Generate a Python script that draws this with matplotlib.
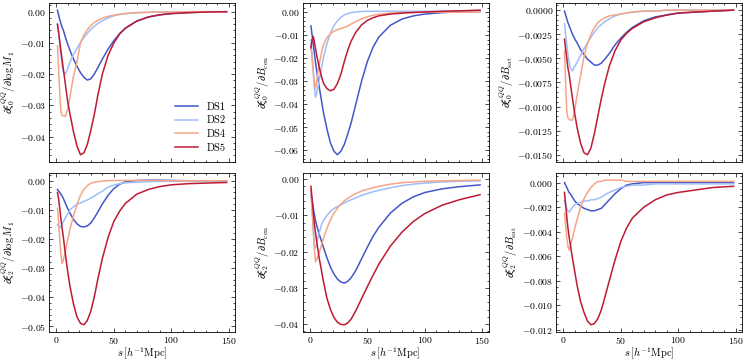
import numpy as np
import matplotlib
matplotlib.use("Agg")
import matplotlib.pyplot as plt
from matplotlib.ticker import AutoMinorLocator

plt.rcParams.update({
    "font.family": "serif",
    "font.serif": ["cmr10"],
    "mathtext.fontset": "cm",
    "axes.formatter.use_mathtext": True,
    "axes.unicode_minus": True,
    "font.size": 7,
    "axes.linewidth": 0.6,
    "xtick.direction": "in",
    "ytick.direction": "in",
    "xtick.top": True,
    "ytick.right": True,
    "xtick.major.size": 3,
    "ytick.major.size": 3,
    "xtick.minor.size": 1.5,
    "ytick.minor.size": 1.5,
    "xtick.major.width": 0.5,
    "ytick.major.width": 0.5,
    "xtick.minor.width": 0.5,
    "ytick.minor.width": 0.5,
    "xtick.minor.visible": True,
    "ytick.minor.visible": True,
    "ytick.major.pad": 2.0,
    "xtick.major.pad": 2.0,
})

# separation grid [h^-1 Mpc]
s = [1, 2, 3, 4, 5, 6, 8, 10, 12, 15, 18, 21, 24, 27, 30, 33, 36, 40, 45, 50,
     55, 60, 70, 80, 90, 100, 115, 130, 148]

labels = ["DS1", "DS2", "DS4", "DS5"]

# xi_0 derivative wrt log M1
xi0_logM1 = {
    "DS1": [0.0005, -0.0010, -0.0025, -0.0038, -0.0050, -0.0058, -0.0083, -0.0105, -0.0125, -0.0152,
            -0.0175, -0.0195, -0.0210, -0.0219, -0.0215, -0.0200, -0.0180, -0.0152, -0.0120, -0.0093,
            -0.0070, -0.0053, -0.0030, -0.0017, -0.0010, -0.0006, -0.0003, -0.0001, 0.0000],
    "DS2": [-0.0040, -0.0070, -0.0105, -0.0140, -0.0170, -0.0192, -0.0200, -0.0180, -0.0160, -0.0137,
            -0.0117, -0.0099, -0.0083, -0.0069, -0.0057, -0.0047, -0.0038, -0.0029, -0.0020, -0.0013,
            -0.0009, -0.0006, -0.0003, -0.0002, -0.0001, -0.0001, 0.0000, 0.0000, 0.0000],
    "DS4": [-0.0110, -0.0180, -0.0260, -0.0320, -0.0332, -0.0333, -0.0335, -0.0310, -0.0270, -0.0205,
            -0.0160, -0.0100, -0.0075, -0.0058, -0.0045, -0.0035, -0.0028, -0.0021, -0.0015, -0.0011,
            -0.0008, -0.0006, -0.0003, -0.0002, -0.0001, -0.0001, 0.0000, 0.0000, 0.0000],
    "DS5": [-0.0040, -0.0065, -0.0095, -0.0125, -0.0152, -0.0180, -0.0235, -0.0290, -0.0330, -0.0385,
            -0.0430, -0.0458, -0.0452, -0.0425, -0.0380, -0.0330, -0.0270, -0.0200, -0.0140, -0.0100,
            -0.0072, -0.0053, -0.0030, -0.0017, -0.0010, -0.0006, -0.0003, -0.0001, 0.0000],
}

# xi_0 derivative wrt B_cen
xi0_Bcen = {
    "DS1": [-0.0060, -0.0100, -0.0140, -0.0180, -0.0220, -0.0255, -0.0320, -0.0380, -0.0440, -0.0510,
            -0.0570, -0.0605, -0.0620, -0.0605, -0.0575, -0.0530, -0.0480, -0.0400, -0.0300, -0.0215,
            -0.0152, -0.0108, -0.0057, -0.0030, -0.0016, -0.0008, -0.0002, 0.0002, 0.0006],
    "DS2": [-0.0120, -0.0190, -0.0260, -0.0330, -0.0370, -0.0350, -0.0300, -0.0245, -0.0195, -0.0135,
            -0.0090, -0.0058, -0.0037, -0.0022, -0.0012, -0.0006, -0.0002, 0.0001, 0.0003, 0.0004,
            0.0004, 0.0004, 0.0004, 0.0004, 0.0004, 0.0004, 0.0004, 0.0005, 0.0005],
    "DS4": [-0.0150, -0.0200, -0.0260, -0.0310, -0.0330, -0.0300, -0.0230, -0.0180, -0.0140, -0.0110,
            -0.0093, -0.0083, -0.0076, -0.0071, -0.0066, -0.0060, -0.0051, -0.0041, -0.0029, -0.0020,
            -0.0013, -0.0009, -0.0004, -0.0002, -0.0001, 0.0000, 0.0000, 0.0000, 0.0000],
    "DS5": [-0.0155, -0.0120, -0.0105, -0.0130, -0.0160, -0.0188, -0.0235, -0.0277, -0.0310, -0.0333,
            -0.0342, -0.0335, -0.0310, -0.0270, -0.0215, -0.0165, -0.0125, -0.0087, -0.0055, -0.0036,
            -0.0024, -0.0016, -0.0008, -0.0004, -0.0001, 0.0001, 0.0004, 0.0006, 0.0009],
}

# xi_0 derivative wrt B_sat
xi0_Bsat = {
    "DS1": [-0.0001, -0.0005, -0.0009, -0.0013, -0.0016, -0.0019, -0.0025, -0.0030, -0.0034, -0.0041,
            -0.0046, -0.0051, -0.0054, -0.0057, -0.0057, -0.0055, -0.0051, -0.0045, -0.0036, -0.0029,
            -0.0023, -0.0018, -0.0011, -0.0007, -0.0005, -0.0003, -0.0002, -0.0001, 0.0000],
    "DS2": [-0.0014, -0.0025, -0.0036, -0.0046, -0.0054, -0.0060, -0.0063, -0.0058, -0.0054, -0.0047,
            -0.0040, -0.0034, -0.0028, -0.0023, -0.0018, -0.0015, -0.0012, -0.0009, -0.0006, -0.0004,
            -0.0003, -0.0002, -0.0001, -0.0001, 0.0000, 0.0000, 0.0000, 0.0000, 0.0000],
    "DS4": [-0.0042, -0.0075, -0.0105, -0.0112, -0.0113, -0.0114, -0.0114, -0.0103, -0.0088, -0.0068,
            -0.0048, -0.0035, -0.0025, -0.0018, -0.0013, -0.0010, -0.0008, -0.0006, -0.0005, -0.0004,
            -0.0003, -0.0002, -0.0001, -0.0001, 0.0000, 0.0000, 0.0000, 0.0000, 0.0000],
    "DS5": [-0.0030, -0.0040, -0.0050, -0.0060, -0.0066, -0.0075, -0.0092, -0.0108, -0.0122, -0.0138,
            -0.0148, -0.0150, -0.0143, -0.0128, -0.0110, -0.0092, -0.0076, -0.0058, -0.0042, -0.0031,
            -0.0024, -0.0019, -0.0012, -0.0008, -0.0005, -0.0003, -0.0002, -0.0001, 0.0000],
}

# xi_2 derivative wrt log M1
xi2_logM1 = {
    "DS1": [-0.0030, -0.0035, -0.0040, -0.0046, -0.0052, -0.0060, -0.0078, -0.0096, -0.0112, -0.0133,
            -0.0148, -0.0157, -0.0159, -0.0155, -0.0145, -0.0128, -0.0108, -0.0080, -0.0050, -0.0027,
            -0.0012, -0.0004, 0.0001, 0.0002, 0.0002, 0.0001, 0.0000, -0.0001, -0.0001],
    "DS2": [-0.0150, -0.0158, -0.0162, -0.0158, -0.0150, -0.0142, -0.0127, -0.0112, -0.0100, -0.0089,
            -0.0081, -0.0076, -0.0071, -0.0066, -0.0060, -0.0053, -0.0045, -0.0036, -0.0022, -0.0015,
            -0.0010, -0.0007, -0.0005, -0.0003, -0.0002, -0.0002, -0.0002, -0.0002, -0.0002],
    "DS4": [-0.0095, -0.0140, -0.0200, -0.0255, -0.0285, -0.0275, -0.0240, -0.0200, -0.0165, -0.0120,
            -0.0082, -0.0050, -0.0030, -0.0017, -0.0009, -0.0005, -0.0003, -0.0001, 0.0000, 0.0001,
            0.0001, 0.0001, 0.0001, 0.0001, 0.0001, 0.0000, 0.0000, 0.0000, 0.0000],
    "DS5": [-0.0040, -0.0060, -0.0095, -0.0130, -0.0162, -0.0190, -0.0255, -0.0315, -0.0365, -0.0425,
            -0.0468, -0.0490, -0.0495, -0.0480, -0.0448, -0.0400, -0.0340, -0.0268, -0.0195, -0.0140,
            -0.0105, -0.0078, -0.0046, -0.0030, -0.0020, -0.0014, -0.0010, -0.0008, -0.0006],
}

# xi_2 derivative wrt B_cen
xi2_Bcen = {
    "DS1": [-0.0040, -0.0060, -0.0080, -0.0098, -0.0115, -0.0128, -0.0150, -0.0170, -0.0190, -0.0218,
            -0.0243, -0.0262, -0.0276, -0.0284, -0.0287, -0.0282, -0.0272, -0.0252, -0.0220, -0.0188,
            -0.0158, -0.0133, -0.0094, -0.0067, -0.0049, -0.0037, -0.0027, -0.0021, -0.0016],
    "DS2": [-0.0040, -0.0090, -0.0140, -0.0185, -0.0190, -0.0178, -0.0150, -0.0128, -0.0113, -0.0100,
            -0.0089, -0.0081, -0.0076, -0.0071, -0.0066, -0.0061, -0.0057, -0.0052, -0.0045, -0.0040,
            -0.0035, -0.0031, -0.0024, -0.0018, -0.0014, -0.0011, -0.0008, -0.0006, -0.0005],
    "DS4": [-0.0030, -0.0080, -0.0140, -0.0195, -0.0228, -0.0222, -0.0205, -0.0184, -0.0162, -0.0135,
            -0.0112, -0.0094, -0.0080, -0.0069, -0.0060, -0.0053, -0.0047, -0.0040, -0.0033, -0.0028,
            -0.0024, -0.0020, -0.0014, -0.0010, -0.0008, -0.0006, -0.0005, -0.0004, -0.0003],
    "DS5": [-0.0020, -0.0055, -0.0090, -0.0125, -0.0150, -0.0172, -0.0215, -0.0250, -0.0285, -0.0330,
            -0.0360, -0.0382, -0.0395, -0.0401, -0.0402, -0.0397, -0.0386, -0.0363, -0.0330, -0.0297,
            -0.0265, -0.0235, -0.0185, -0.0147, -0.0117, -0.0095, -0.0072, -0.0057, -0.0043],
}

# xi_2 derivative wrt B_sat
xi2_Bsat = {
    "DS1": [0.0000, -0.0002, -0.0004, -0.0006, -0.0008, -0.0009, -0.0012, -0.0015, -0.0017, -0.0019,
            -0.0021, -0.0022, -0.0023, -0.0023, -0.0022, -0.0021, -0.0018, -0.0014, -0.0009, -0.0005,
            -0.0002, -0.0001, 0.0000, 0.0000, 0.0000, 0.0000, 0.0000, 0.0000, 0.0000],
    "DS2": [-0.0015, -0.0018, -0.0021, -0.0023, -0.0024, -0.0023, -0.0020, -0.0018, -0.0017, -0.0016,
            -0.0015, -0.0015, -0.0014, -0.0014, -0.0013, -0.0012, -0.0010, -0.0008, -0.0006, -0.0004,
            -0.0003, -0.0002, -0.0002, -0.0001, -0.0001, -0.0001, -0.0001, -0.0001, -0.0001],
    "DS4": [-0.0025, -0.0035, -0.0045, -0.0052, -0.0055, -0.0052, -0.0045, -0.0037, -0.0030, -0.0020,
            -0.0013, -0.0008, -0.0004, -0.0001, 0.0001, 0.0001, 0.0002, 0.0002, 0.0002, 0.0002,
            0.0001, 0.0001, 0.0001, 0.0001, 0.0001, 0.0001, 0.0001, 0.0001, 0.0001],
    "DS5": [-0.0008, -0.0018, -0.0028, -0.0037, -0.0044, -0.0050, -0.0062, -0.0073, -0.0084, -0.0097,
            -0.0106, -0.0113, -0.0116, -0.0115, -0.0111, -0.0104, -0.0094, -0.0080, -0.0063, -0.0048,
            -0.0037, -0.0029, -0.0020, -0.0014, -0.0010, -0.0008, -0.0006, -0.0004, -0.0003],
}

colors = {"DS1": "#4457c9", "DS2": "#9fbdfb", "DS4": "#f5a587", "DS5": "#bd1a34"}

panels = [
    (xi0_logM1, r"$\partial\xi_0^{QQ}/\partial\log M_1$"),
    (xi0_Bcen, r"$\partial\xi_0^{QQ}/\partial B_{\rm cen}$"),
    (xi0_Bsat, r"$\partial\xi_0^{QQ}/\partial B_{\rm sat}$"),
    (xi2_logM1, r"$\partial\xi_2^{QQ}/\partial\log M_1$"),
    (xi2_Bcen, r"$\partial\xi_2^{QQ}/\partial B_{\rm cen}$"),
    (xi2_Bsat, r"$\partial\xi_2^{QQ}/\partial B_{\rm sat}$"),
]

fig, axes = plt.subplots(2, 3, figsize=(7.48, 3.63), dpi=100, sharex=True)
fig.subplots_adjust(left=0.0655, right=0.992, top=0.992, bottom=0.0854,
                    wspace=0.363, hspace=0.069)

for ax, (data, ylab) in zip(axes.flat, panels):
    for lab in labels:
        ax.plot(s, data[lab], color=colors[lab], lw=1.1, label=lab)
    ax.set_ylabel(ylab, fontsize=7.5, labelpad=1.0)
    ax.xaxis.set_minor_locator(AutoMinorLocator())
    ax.yaxis.set_minor_locator(AutoMinorLocator())
    ax.set_xticks([0, 50, 100, 150])

for ax in axes[1]:
    ax.set_xlabel(r"$s\,[h^{-1}\mathrm{Mpc}]$", fontsize=7.5, labelpad=0.5)

axes[0, 0].legend(loc="lower right", frameon=False, fontsize=7.5, handlelength=2.2,
                  labelspacing=0.4)

fig.savefig("out.png", dpi=100)
